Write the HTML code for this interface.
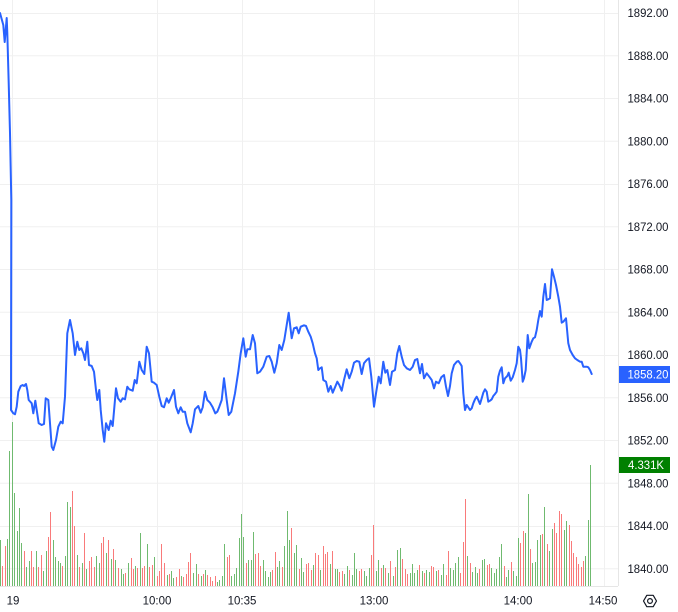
<!DOCTYPE html>
<html><head><meta charset="utf-8"><style>
html,body{margin:0;padding:0;background:#fff;}
svg{display:block;}
text{font-family:"Liberation Sans",Arial,sans-serif;}
</style></head><body>
<svg width="678" height="612" viewBox="0 0 678 612" xmlns="http://www.w3.org/2000/svg">
<rect width="678" height="612" fill="#fff"/>
<g stroke="#f0f0f0" stroke-width="1">
<path d="M0 13.5H618M0 55.75H618M0 98.5H618M0 141.25H618M0 184.5H618M0 226.75H618M0 269.5H618M0 312.25H618M0 355.5H618M0 397.75H618M0 440.5H618M0 483.25H618M0 526.5H618M0 568.75H618"/>
<path d="M12.5 0V586M157.5 0V586M242.5 0V586M374.5 0V586M518.5 0V586M604.5 0V586"/>
</g>
<path d="M0 586.5H618M618.5 0V586" stroke="#e6e6e6" stroke-width="1"/>
<path stroke="#6fba6f" stroke-width="1" fill="none" d="M0.5 586V540M7.5 586V539M9.5 586V451M12.5 586V422M14.5 586V493M17.5 586V531M19.5 586V508M21.5 586V543M26.5 586V567M29.5 586V561M36.5 586V551M43.5 586V571M46.5 586V551M53.5 586V540M55.5 586V557M58.5 586V561M60.5 586V563M65.5 586V556M67.5 586V502M70.5 586V507M77.5 586V555M82.5 586V563M86.5 586V569M96.5 586V556M99.5 586V563M106.5 586V553M111.5 586V559M115.5 586V560M121.5 586V569M123.5 586V574M128.5 586V563M135.5 586V566M140.5 586V533M147.5 586V544M154.5 586V557M167.5 586V575M171.5 586V571M173.5 586V578M181.5 586V576M193.5 586V573M196.5 586V564M201.5 586V576M205.5 586V570M217.5 586V582M219.5 586V580M222.5 586V576M224.5 586V544M231.5 586V576M234.5 586V574M236.5 586V568M239.5 586V538M241.5 586V514M243.5 586V537M248.5 586V560M251.5 586V560M253.5 586V532M263.5 586V560M265.5 586V571M268.5 586V577M270.5 586V572M277.5 586V567M279.5 586V561M284.5 586V546M287.5 586V511M289.5 586V540M294.5 586V553M296.5 586V545M301.5 586V558M303.5 586V572M313.5 586V565M320.5 586V570M330.5 586V564M335.5 586V569M337.5 586V569M344.5 586V574M347.5 586V566M352.5 586V575M354.5 586V553M356.5 586V569M364.5 586V571M366.5 586V576M369.5 586V568M376.5 586V571M378.5 586V560M383.5 586V565M388.5 586V573M393.5 586V576M397.5 586V550M400.5 586V548M410.5 586V573M412.5 586V564M414.5 586V573M417.5 586V570M422.5 586V571M426.5 586V570M429.5 586V572M436.5 586V571M441.5 586V575M443.5 586V564M450.5 586V568M453.5 586V570M455.5 586V563M458.5 586V557M467.5 586V556M472.5 586V572M475.5 586V567M477.5 586V573M482.5 586V560M484.5 586V559M491.5 586V568M494.5 586V573M496.5 586V569M499.5 586V557M501.5 586V544M506.5 586V577M508.5 586V570M513.5 586V571M516.5 586V576M518.5 586V538M525.5 586V533M528.5 586V494M532.5 586V563M535.5 586V562M537.5 586V540M540.5 586V535M544.5 586V507M549.5 586V551M552.5 586V529M564.5 586V530M566.5 586V521M585.5 586V556M588.5 586V520M590.5 586V465"/>
<path stroke="#f97a7a" stroke-width="1" fill="none" d="M2.5 586V566M5.5 586V546M24.5 586V551M31.5 586V551M33.5 586V567M38.5 586V567M41.5 586V555M48.5 586V537M50.5 586V512M62.5 586V566M72.5 586V491M74.5 586V526M79.5 586V567M84.5 586V533M89.5 586V561M91.5 586V557M94.5 586V567M101.5 586V543M103.5 586V537M108.5 586V540M113.5 586V549M118.5 586V568M125.5 586V573M131.5 586V558M133.5 586V569M137.5 586V568M142.5 586V568M144.5 586V566M149.5 586V567M152.5 586V565M157.5 586V576M159.5 586V571M161.5 586V544M164.5 586V563M169.5 586V574M176.5 586V577M179.5 586V569M183.5 586V577M186.5 586V574M188.5 586V562M190.5 586V553M198.5 586V574M203.5 586V574M207.5 586V575M210.5 586V577M212.5 586V581M215.5 586V576M227.5 586V557M229.5 586V555M246.5 586V563M255.5 586V554M258.5 586V553M260.5 586V566M272.5 586V570M275.5 586V552M282.5 586V567M291.5 586V528M299.5 586V569M306.5 586V564M308.5 586V563M311.5 586V570M315.5 586V553M318.5 586V555M323.5 586V546M325.5 586V554M327.5 586V552M332.5 586V551M339.5 586V572M342.5 586V571M349.5 586V570M359.5 586V571M361.5 586V569M371.5 586V555M373.5 586V525M381.5 586V568M385.5 586V568M390.5 586V561M395.5 586V567M402.5 586V559M405.5 586V569M407.5 586V574M419.5 586V565M424.5 586V573M431.5 586V566M433.5 586V567M438.5 586V570M446.5 586V575M448.5 586V551M460.5 586V573M463.5 586V542M465.5 586V499M470.5 586V563M479.5 586V569M487.5 586V565M489.5 586V564M504.5 586V566M511.5 586V562M520.5 586V543M523.5 586V531M530.5 586V549M542.5 586V534M547.5 586V544M554.5 586V523M556.5 586V533M559.5 586V511M561.5 586V514M569.5 586V525M571.5 586V541M573.5 586V553M576.5 586V557M578.5 586V564M581.5 586V567M583.5 586V561"/>
<polyline fill="none" stroke="#2962ff" stroke-width="2" stroke-linejoin="round" stroke-linecap="round" points="0,13 3.3,25 4.7,42 6.7,18 7.3,33 8.7,83 10,133 11.3,200 11,410 13.3,413.3 15,414.3 16.7,406.7 18.3,391.7 20.7,386 22.7,385 24,386 26,384 27.3,390 28.7,400 31.7,403.3 33.3,413.3 35.3,400.7 36.7,410 38.7,423.3 41.7,425 44,424 45.7,398.3 48.3,400 50,423.3 51.7,446.7 53.3,450 56,440 58.3,426.7 60.7,421.7 62.7,423.3 65,396.7 67.3,333.3 70,320 72.7,333.3 75,355 77.3,341.7 79.3,350 81.3,348.3 83.3,353.3 85,360 87.3,341.7 89,365 91.7,366 94,371.7 96,390 97.3,400 99.3,390 100.7,410 102.7,430 104.3,441.7 106,423.3 108.7,430 110.7,420.7 112.7,426 116,388.3 118,398.3 120.7,401.7 122.7,398.3 125,399.3 127.3,386.7 129.3,389.3 132.7,390.7 134.7,380 136.7,383.3 139.3,361.7 141.7,370 144.3,374 146.7,346.7 149,353.3 151.7,381.7 154,382.7 156.7,385 159.3,396.7 161.7,406 164,407.3 166.7,398.3 168.7,402.7 170.7,398.3 174,390 176,406.7 178.3,413.3 180.7,407.3 182.7,411.7 185,411.7 187.3,423.3 190.7,432.3 192.7,423.3 195,409.3 198.3,406 200.7,412.7 202.7,407.3 205,391.7 207.3,400 210,402.7 212.7,407.3 215.3,413.3 217.3,411.7 219.3,406.7 221.7,400 224,378.3 226.7,400 228.7,415 231.3,411.7 235,393.3 238.3,371.7 240.7,353.3 243.3,338.3 245.7,356.7 247.3,349.3 250,349.3 252.7,335 255,343.3 257.3,373.3 260,371.7 263.3,366.7 266.7,356.7 269.3,356 271.7,361.7 274.3,372.7 276.7,363.3 279.3,345 281.7,350 284.3,340 286.7,325 288.7,312.7 291.7,338.3 294,328.3 296.7,327.3 298.7,333.3 300.7,326.7 304,325.3 306,326 308.3,331.7 310.7,336.7 312.7,343.3 315,353.3 316.7,358.3 318.3,370 320,368.3 321.7,367.3 323.3,380 326,381.7 328.3,391.7 330.7,386 332.7,392.7 335,387.3 337.3,381.7 339.3,385 341.7,390.7 344,380 346.7,369.3 349.3,378.3 351.7,371.7 354,362.7 356.7,361 359.3,361.7 361.7,374 364,363.3 366.7,360 369,358.3 371.3,376.7 374,406.7 376,393.3 378.7,376.7 380.7,383.3 383.3,361.7 385.3,372.7 387.3,370 390,385 392,371.7 395,370 397.3,353.3 399.3,346 401.7,356.7 404,365 406.7,368.3 410,370 412.7,366.7 415,360 417.3,359 420,373.3 422,364 424,378.3 426.7,373.3 429.3,376.7 431.7,380 434,388.3 436,381.7 438.7,383.3 441.3,377.3 444,375 446,386.7 448,396 450,386 451.7,373.3 454,365 456.7,361.7 458.3,361 460,363.3 461.7,366 463.3,393.3 465,410 466.7,405 468.3,407.3 470,410 471.7,408.3 473.3,403.3 475,399.3 476.7,396.7 478.3,400 480,404 481.7,398.3 483.3,392.7 485,389.3 486.7,391.7 488.3,401.7 490,400.7 491.7,399.3 493.3,396 495,394 496.7,391.7 498.3,376.7 500,370.7 501.7,367.3 503.3,383.3 505,378.3 507.3,376 508.7,372.7 510.7,380.7 512.7,377.3 515,370 516.7,363.3 518.3,346.7 520,350 521,358.3 522.7,381.7 524,378.3 525.7,370 527.7,335 529.3,348.3 531.7,341.7 533.3,338.3 535,337.3 536.7,330 538.3,320 540,311 541.7,316.7 543.3,296.7 545,284 546.7,300 548.3,299.3 550,298.3 552,269.3 554,276.7 556,285 558.3,296.7 560,306.7 561.7,322.7 563.3,321.7 566,318.3 568.3,343.3 570,350 572.7,355 575,358.3 577.3,360 580,361.7 581.7,361.7 583.3,366.7 586.7,366.7 588.3,367.3 590,370 591.7,374"/>
<g fill="#131722" font-size="11.5">
<text x="627.5" y="17" textLength="41" lengthAdjust="spacingAndGlyphs">1892.00</text>
<text x="627.5" y="59.75" textLength="41" lengthAdjust="spacingAndGlyphs">1888.00</text>
<text x="627.5" y="102.5" textLength="41" lengthAdjust="spacingAndGlyphs">1884.00</text>
<text x="627.5" y="145.25" textLength="41" lengthAdjust="spacingAndGlyphs">1880.00</text>
<text x="627.5" y="188" textLength="41" lengthAdjust="spacingAndGlyphs">1876.00</text>
<text x="627.5" y="230.75" textLength="41" lengthAdjust="spacingAndGlyphs">1872.00</text>
<text x="627.5" y="273.5" textLength="41" lengthAdjust="spacingAndGlyphs">1868.00</text>
<text x="627.5" y="316.25" textLength="41" lengthAdjust="spacingAndGlyphs">1864.00</text>
<text x="627.5" y="359" textLength="41" lengthAdjust="spacingAndGlyphs">1860.00</text>
<text x="627.5" y="401.75" textLength="41" lengthAdjust="spacingAndGlyphs">1856.00</text>
<text x="627.5" y="444.5" textLength="41" lengthAdjust="spacingAndGlyphs">1852.00</text>
<text x="627.5" y="487.25" textLength="41" lengthAdjust="spacingAndGlyphs">1848.00</text>
<text x="627.5" y="530" textLength="41" lengthAdjust="spacingAndGlyphs">1844.00</text>
<text x="627.5" y="572.75" textLength="41" lengthAdjust="spacingAndGlyphs">1840.00</text>
</g>
<rect x="619" y="366" width="51" height="17" fill="#2962ff"/>
<text x="627.5" y="378.5" fill="#fff" font-size="11.5" textLength="41" lengthAdjust="spacingAndGlyphs">1858.20</text>
<rect x="619" y="457" width="51" height="16" fill="#008000"/>
<text x="628" y="469" fill="#fff" font-size="11.5" textLength="36" lengthAdjust="spacingAndGlyphs">4.331K</text>
<g fill="#131722" font-size="11.5" text-anchor="middle">
<text x="13" y="604.5">19</text>
<text x="157" y="604.5">10:00</text>
<text x="242" y="604.5">10:35</text>
<text x="374" y="604.5">13:00</text>
<text x="518" y="604.5">14:00</text>
<text x="603" y="604.5">14:50</text>
</g>
<polygon points="643.5,601 646.8,595.3 653.2,595.3 656.5,601 653.2,606.7 646.8,606.7" fill="none" stroke="#131722" stroke-width="1.2" stroke-linejoin="round"/>
<circle cx="650" cy="601" r="2.4" fill="none" stroke="#131722" stroke-width="1.2"/>
</svg>
</body></html>
